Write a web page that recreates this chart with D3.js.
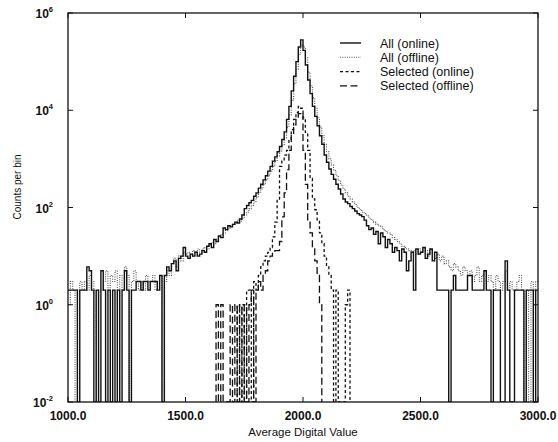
<!DOCTYPE html>
<html><head><meta charset="utf-8">
<script src="https://cdn.jsdelivr.net/npm/d3@7"></script>
<style>body{margin:0;background:#fff}svg text{font-family:"Liberation Sans",Arial,Helvetica,sans-serif;fill:#111}</style>
</head><body><svg id="c" width="558" height="442"></svg>
<script>
// ---- data (bin width 10, counts per bin) ----
const binStart = 1000;
const binWidth = 10;
const allOnline = [
  2,2,2,2,0,2,2,2,6,5, 2,0,2,0,5,2,0,2,0,2, 0,2,0,2,5,2,0,2,2,3, 3,2,3,3,2,3,3,3,2,4,
  0,4,6,5,7,8,5,9,10,15,
  10,9,11,10,12,10,11,13,12,16, 18,15,22,20,26,24,38,35,42,40, 45,50,48,58,70,95,110,125,140,170,
  200,250,300,370,450,560,700,900,1100,1400, 1800,2500,3600,6500,12000,25000,50000,100000,200000,280000,
  170000,85000,42000,22000,12000,7500,4800,3000,2000,1200, 850,620,480,380,300,240,190,150,130,120,
  105,95,85,75,70,65,55,42,35,38, 28,32,18,30,25,15,22,18,12,15, 13,8,14,12,5,8,12,2,14,11,
  12,15,9,11,14,8,12,2,2,2, 2,2,0,2,4,2,2,2,2,2, 4,4,2,2,2,2,2,5,2,2, 0,2,2,2,0,0,8,2,0,0,
  2,2,2,2,0,2,2,2,0,2
];
const allOffline = [
  1,3,2,0,2,3,2,3,2,4, 3,2,0,2,2,3,5,2,4,3, 5,0,4,2,6,4,0,3,5,3, 2,3,2,4,3,3,4,2,3,4,
  0,3,5,4,7,9,6,10,8,12,
  11,12,10,13,12,14,12,14,15,14, 17,19,18,22,25,28,30,34,38,42, 45,48,55,52,60,70,80,95,110,130,
  160,200,240,300,370,450,560,700,900,1150, 1450,1900,2700,4500,8000,16000,35000,70000,140000,220000,
  200000,120000,60000,32000,18000,11000,7000,4500,3000,2000, 1400,1000,750,580,450,360,290,240,200,170,
  150,130,115,100,90,80,75,68,60,55, 50,45,42,40,35,32,30,28,24,22, 20,18,16,15,14,13,12,13,11,14,
  12,15,13,10,14,12,9,11,8,10, 7,8,6,5,7,6,5,4,6,5, 4,5,3,4,6,3,4,5,3,4, 3,2,4,3,2,3,5,2,3,2,
  2,3,4,2,0,2,0,3,2,3
];
const selOnlineStart = 1720;
const selOnline = [
  1,0,1,0,2,2,0,3,2,4, 6,8,10,12,15,25,50,140,700,900,
  1200,1500,2500,4000,6500,9000,12000,11000,7000,3500, 1500,400,150,90,56,30,18,10,6,4,
  2,0,2,0,0,0,1,2
];
const selOfflineStart = 1630;
const selOffline = [
  1,0,1,0,0,0,1,0,1,0, 1,0,1,0,1,2,0,2,3,2, 4,5,8,10,12,13,13,20,64,200,
  600,1500,3000,5000,7000,8500,9000,1500,300,56, 30,15,8,4,1
];
const xTicks = [1000, 1500, 2000, 2500, 3000];
const yTicks = [1e-2, 1, 1e2, 1e4, 1e6];
const yTickExp = ["-2", "0", "2", "4", "6"];
const legendLabels = ["All (online)", "All (offline)", "Selected (online)", "Selected (offline)"];
const xTitle = "Average Digital Value";
const yTitle = "Counts per bin";

// ---- drawing ----
const svg = d3.select("#c");
const L = 68, R = 538, T = 13, B = 402;
const x = d3.scaleLinear().domain([1000, 3000]).range([L, R]);
const y = d3.scaleLog().domain([1e-2, 1e6]).range([B, T]);
const floor = 1e-2;

svg.append("defs").append("clipPath").attr("id", "clip")
  .append("rect").attr("x", L).attr("y", T).attr("width", R - L).attr("height", B - T);

function pts(start, vals, closeEnds) {
  const p = [];
  if (closeEnds) p.push([start, floor]);
  vals.forEach((v, i) => p.push([start + i * binWidth, Math.max(v, floor)]));
  const end = start + vals.length * binWidth;
  p.push([end, Math.max(vals[vals.length - 1], floor)]);
  if (closeEnds) p.push([end, floor]);
  return p;
}
const line = d3.line().x(d => x(d[0])).y(d => y(d[1])).curve(d3.curveStepAfter);
const series = [
  {p: pts(binStart, allOffline, false), stroke: "#555", w: 1.1, dash: "1,1.3"},
  {p: pts(binStart, allOnline, false), stroke: "#111", w: 1.4, dash: null},
  {p: pts(selOnlineStart, selOnline, true), stroke: "#111", w: 1.3, dash: "3,2.5"},
  {p: pts(selOfflineStart, selOffline, true), stroke: "#111", w: 1.3, dash: "7,3.5"}
];
const g = svg.append("g").attr("clip-path", "url(#clip)");
series.forEach(s => {
  g.append("path").attr("d", line(s.p)).attr("fill", "none")
    .attr("stroke", s.stroke).attr("stroke-width", s.w)
    .attr("stroke-dasharray", s.dash);
});

// frame
svg.append("rect").attr("x", L).attr("y", T).attr("width", R - L).attr("height", B - T)
  .attr("fill", "none").attr("stroke", "#111").attr("stroke-width", 1.3);

// ticks
const tk = 5;
xTicks.forEach(t => {
  svg.append("line").attr("x1", x(t)).attr("x2", x(t)).attr("y1", B).attr("y2", B - tk).attr("stroke", "#111");
  svg.append("line").attr("x1", x(t)).attr("x2", x(t)).attr("y1", T).attr("y2", T + tk).attr("stroke", "#111");
  svg.append("text").attr("x", x(t)).attr("y", 420).attr("text-anchor", "middle")
    .attr("font-size", 12).attr("font-weight", "bold").text(d3.format(".1f")(t));
});
yTicks.forEach((t, i) => {
  svg.append("line").attr("x1", L).attr("x2", L + tk).attr("y1", y(t)).attr("y2", y(t)).attr("stroke", "#111");
  svg.append("line").attr("x1", R).attr("x2", R - tk).attr("y1", y(t)).attr("y2", y(t)).attr("stroke", "#111");
  const tx = svg.append("text").attr("x", 53).attr("y", y(t) + 5).attr("text-anchor", "end")
    .attr("font-size", 12).attr("font-weight", "bold");
  tx.append("tspan").text("10");
  tx.append("tspan").attr("font-size", 7.5).attr("dy", -6).text(yTickExp[i]);
});

// axis titles
svg.append("text").attr("x", 303).attr("y", 436).attr("text-anchor", "middle")
  .attr("font-size", 11.5).text(xTitle);
svg.append("text").attr("transform", "translate(21,187) rotate(-90)").attr("text-anchor", "middle")
  .attr("font-size", 10).text(yTitle);

// legend
const lg = svg.append("g");
legendLabels.forEach((lab, i) => {
  const ly = 43 + i * 14.3;
  const s = [series[1], series[0], series[2], series[3]][i];
  lg.append("line").attr("x1", 340).attr("x2", 361).attr("y1", ly).attr("y2", ly)
    .attr("stroke", s.stroke).attr("stroke-width", s.w).attr("stroke-dasharray", s.dash);
  lg.append("text").attr("x", 380).attr("y", ly + 4.5).attr("font-size", 12.5).text(lab);
});
</script></body></html>
